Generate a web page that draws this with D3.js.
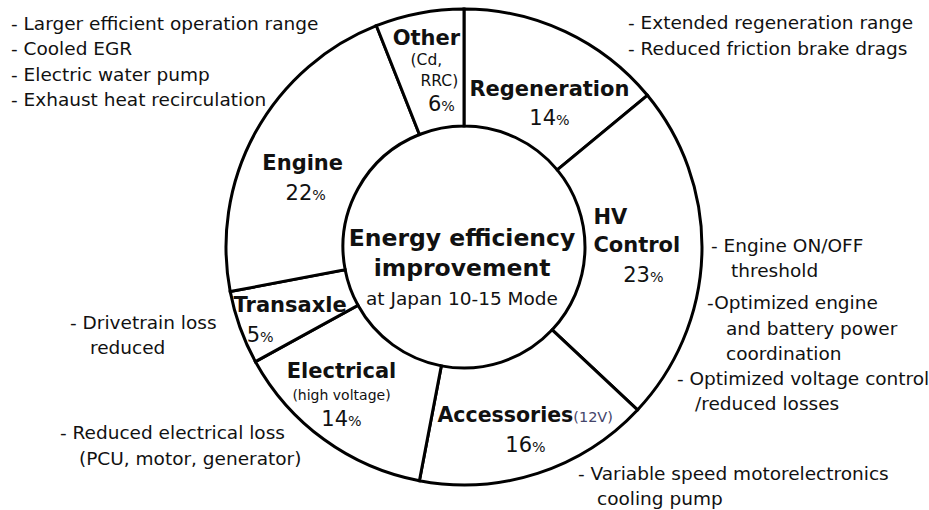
<!DOCTYPE html>
<html>
<head>
<meta charset="utf-8">
<script src="https://cdn.jsdelivr.net/npm/d3@7.9.0/dist/d3.min.js"></script>
<style>
  body { margin: 0; background: #fff; }
  svg { display: block; }
  text { font-family: "DejaVu Sans", sans-serif; fill: #111; }
</style>
</head>
<body>
<svg id="chart" width="929" height="510"></svg>
<script>
// data, clockwise from 12 o'clock
const categories = ['Regeneration', 'HV Control', 'Accessories', 'Electrical', 'Transaxle', 'Engine', 'Other'];
const shares = [14, 23, 16, 14, 5, 22, 6];
const subLabels = ['', '', '(12V)', '(high voltage)', '', '', '(Cd, RRC)'];

const centerTitle = ['Energy efficiency', 'improvement'];
const centerSub = 'at Japan 10-15 Mode';

const notesRegeneration = ['- Extended regeneration range', '- Reduced friction brake drags'];
const notesHV = ['- Engine ON/OFF', 'threshold', '-Optimized engine', 'and battery power', 'coordination', '- Optimized voltage control', '/reduced losses'];
const notesAccessories = ['- Variable speed motorelectronics', 'cooling pump'];
const notesElectrical = ['- Reduced electrical loss', '(PCU, motor, generator)'];
const notesTransaxle = ['- Drivetrain loss', 'reduced'];
const notesEngine = ['- Larger efficient operation range', '- Cooled EGR', '- Electric water pump', '- Exhaust heat recirculation'];

// layout
const cx = 464, cy = 247, rOuter = 238, rInner = 121;

const svg = d3.select('#chart');
const g = svg.append('g').attr('transform', `translate(${cx},${cy})`);

const pie = d3.pie().sort(null).value(d => d).startAngle(0).endAngle(2 * Math.PI);
const arc = d3.arc().innerRadius(rInner).outerRadius(rOuter);
const arcData = pie(shares);

g.selectAll('path')
  .data(arcData)
  .join('path')
  .attr('d', arc)
  .attr('fill', '#fff')
  .attr('stroke', '#000')
  .attr('stroke-width', 3);

// slice labels: offsets from each slice's centroid
const labelLayout = [
  [{k: 'title', dx: 9, dy: 4}, {k: 'pct', dx: 9, dy: 33}],
  [{k: 'word', i: 0, dx: -50, dy: -36, a: 'start'}, {k: 'word', i: 1, dx: -50, dy: -8, a: 'start'}, {k: 'pct', dx: 0, dy: 22}],
  [{k: 'titleSub', dx: -82, dy: -3, a: 'start'}, {k: 'pct', dx: 6, dy: 27}],
  [{k: 'title', dx: -17, dy: -22}, {k: 'sub', dx: -17, dy: 3}, {k: 'pct', dx: -17, dy: 26}],
  [{k: 'title', dx: -5, dy: -3}, {k: 'pct', dx: -35, dy: 27}],
  [{k: 'title', dx: -4, dy: 2}, {k: 'pct', dx: -1, dy: 32}],
  [{k: 'title', dx: -4, dy: -33}, {k: 'subWord', i: 0, dx: -4, dy: -11}, {k: 'subWord', i: 1, dx: 9, dy: 10}, {k: 'pct', dx: 11, dy: 33}]
];

const titleSize = 21, pctSize = 21, subSize = 14, noteSize = 18.5;

arcData.forEach((d, idx) => {
  const [x, y] = arc.centroid(d);
  labelLayout[idx].forEach(L => {
    const t = g.append('text')
      .attr('x', x + L.dx)
      .attr('y', y + L.dy)
      .attr('dy', '0.36em')
      .attr('text-anchor', L.a || 'middle');
    if (L.k === 'title') {
      t.attr('font-weight', 'bold').attr('font-size', titleSize).text(categories[idx]);
    } else if (L.k === 'word') {
      t.attr('font-weight', 'bold').attr('font-size', titleSize).text(categories[idx].split(' ')[L.i]);
    } else if (L.k === 'titleSub') {
      t.attr('font-weight', 'bold').attr('font-size', titleSize - 0.5).text(categories[idx]);
      t.append('tspan').attr('font-weight', 'normal').attr('font-size', subSize + 0.5).attr('fill', '#44446a').text(subLabels[idx]);
    } else if (L.k === 'sub') {
      t.attr('font-size', subSize).attr('fill', '#44446a').text(subLabels[idx]);
    } else if (L.k === 'subWord') {
      t.attr('font-size', subSize + 1.5).attr('fill', '#44446a').text(subLabels[idx].split(' ')[L.i]);
    } else if (L.k === 'pct') {
      t.attr('font-size', pctSize).attr('fill', '#1c1c38').text(shares[idx]);
      t.append('tspan').attr('font-size', pctSize * 0.68).text('%');
    }
  });
});

// center text
const center = g.append('g');
centerTitle.forEach((s, i) => {
  center.append('text')
    .attr('x', -2)
    .attr('y', -9 + i * 30)
    .attr('dy', '0.36em')
    .attr('text-anchor', 'middle')
    .attr('font-weight', 'bold')
    .attr('font-size', 23.5)
    .text(s);
});
center.append('text')
  .attr('x', -2)
  .attr('y', 51)
  .attr('dy', '0.36em')
  .attr('text-anchor', 'middle')
  .attr('font-size', 18.5)
  .attr('fill', '#1c1c38')
  .text(centerSub);

// annotation notes (absolute positions: [x, y-center])
const noteBlocks = [
  {lines: notesEngine, pos: [[11, 23], [11, 48], [11, 74], [11, 99]]},
  {lines: notesRegeneration, pos: [[628, 22], [628, 48]]},
  {lines: notesHV, pos: [[711, 245], [731, 270], [707, 302], [726, 328], [726, 353], [677, 378], [695, 403]]},
  {lines: notesAccessories, pos: [[578, 473], [597, 498]]},
  {lines: notesTransaxle, pos: [[70, 322], [90, 347]]},
  {lines: notesElectrical, pos: [[60, 432], [79, 458]]}
];

noteBlocks.forEach(b => {
  b.lines.forEach((s, i) => {
    svg.append('text')
      .attr('x', b.pos[i][0])
      .attr('y', b.pos[i][1])
      .attr('dy', '0.36em')
      .attr('font-size', noteSize)
      .text(s);
  });
});
</script>
</body>
</html>
